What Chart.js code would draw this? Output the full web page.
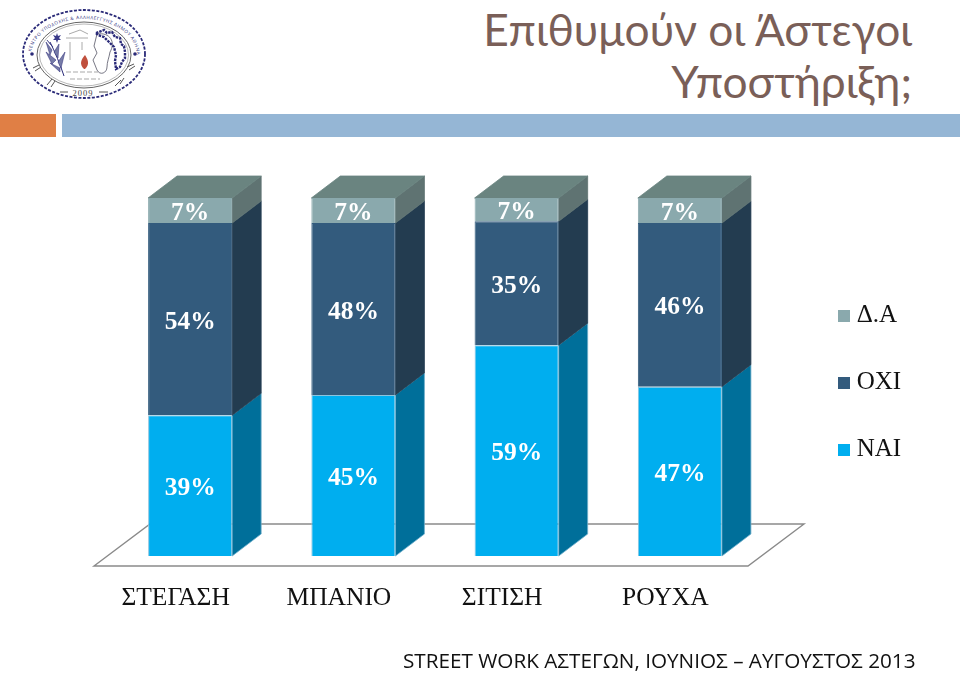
<!DOCTYPE html>
<html lang="el"><head><meta charset="utf-8">
<style>
html,body{margin:0;padding:0;background:#fff;width:960px;height:673px;overflow:hidden}
#c{position:absolute;left:0;top:0}
.t{position:absolute;white-space:nowrap}
#t1,#t2{right:48px;font:400 44.3px/52px Lato,sans-serif;color:#7A5F58;text-align:right}
#t1{top:3px}#t2{top:55px}
#foot{left:403px;top:647px;font:400 20.7px/26px "Open Sans",sans-serif;color:#111}
#o{position:absolute;left:0;top:114px;width:56px;height:23px;background:#E07F45}
#b{position:absolute;left:62px;top:114px;width:898px;height:23px;background:#95B6D5}
svg{position:absolute;left:0;top:0}
</style></head><body>
<svg width="170" height="110" viewBox="0 0 170 110">
<defs><path id="arc" d="M31 56 A53 37 0 1 1 137 56"/></defs>
<ellipse cx="84" cy="54" rx="61" ry="44" fill="none" stroke="#2A2A78" stroke-width="1.8" stroke-dasharray="3 1.5"/>
<ellipse cx="84" cy="55" rx="47" ry="33" fill="none" stroke="#666" stroke-width="1"/>
<ellipse cx="84" cy="55" rx="44.5" ry="31" fill="none" stroke="#888" stroke-width=".6"/>
<text font-family="Open Sans" font-size="4.6" fill="#2A2A78" letter-spacing=".55"><textPath href="#arc" startOffset="3%">ΚΕΝΤΡΟ ΥΠΟΔΟΧΗΣ &amp; ΑΛΛΗΛΕΓΓΥΗΣ ΔΗΜΟΥ ΑΘΗΝΑΙΩΝ</textPath></text>
<text x="83" y="96" font-family="Liberation Serif" font-size="8.5" fill="#444" text-anchor="middle" letter-spacing="1">2009</text>
<circle cx="32" cy="54" r="1.8" fill="#2A2A78"/><circle cx="135" cy="54" r="1.8" fill="#2A2A78"/>
<path d="M33 68 l6 -3 M35 71 l6 -4 M47 85 l5 -6 M51 87 l4 -6 M115 86 l6 -6 M120 84 l4 -6 M129 70 l6 -4 M127 67 l7 -3" stroke="#555" stroke-width="1"/>
<path d="M60 92 H68 M99 92 H108" stroke="#555" stroke-width="1"/>
<path d="M97 34 C110 32 116 42 110 52 C109 58 107 62 107 67 C107 73 100 76 97 70 L93 60 L97 53 L94 46 Z" fill="none" stroke="#556" stroke-width=".8"/>
<path d="M96 33 l8 -3 l3 3 l5 -1 l3 5 l5 1 l1 6 l3 2 l1 6 l0 6 l-3 4 l-2 5 l-4 2 l-1 -8 l1 -6 l-2 -8 l-5 -5 l-5 -5 l-6 -2Z" fill="none" stroke="#2A2A78" stroke-width="2.4" stroke-dasharray="2.5 1"/>
<path d="M64 76 C60 64 55 52 50 42" fill="none" stroke="#2A2A78" stroke-width="1"/>
<path d="M52 50 L46 42 L50 55ZM56 60 L46 52 L52 64ZM54 52 L59 44 L58 58ZM58 62 L65 52 L61 68ZM50 44 L47 40 L53 47ZM60 68 L50 63 L60 72Z" fill="#777CA8" stroke="#2A2A78" stroke-width=".5"/>
<path d="M57 33 l1 3 l3 -1 l-2 3 l2 2 l-3 0 l-1 3 l-1 -3 l-3 0 l2 -2 l-2 -3 l3 1Z" fill="#3A3A88"/>
<path d="M84 69 C79 64 81 60 85 55 C88 60 90 64 85 69Z" fill="#C0503E"/>
<path d="M66 72 H98 M70 79 H100" stroke="#aaa" stroke-width="1.2" stroke-dasharray="5 2"/>
<path d="M69 34 L80 30 L88 34 M66 38 H88 M70 42 V60 M82 42 V50" stroke="#aaa" stroke-width="1" fill="none"/>
</svg>
<div id="t1" class="t">Επιθυμούν οι Άστεγοι</div>
<div id="t2" class="t">Υποστήριξη;</div>
<div id="o"></div><div id="b"></div>
<canvas id="c" width="960" height="673"></canvas>
<div id="foot" class="t">STREET WORK ΑΣΤΕΓΩΝ, ΙΟΥΝΙΟΣ – ΑΥΓΟΥΣΤΟΣ 2013</div>
<script src="https://cdn.jsdelivr.net/npm/chart.js@4/dist/chart.umd.js"></script>
<script>
const categories = ["ΣΤΕΓΑΣΗ","ΜΠΑΝΙΟ","ΣΙΤΙΣΗ","ΡΟΥΧΑ"];
const nai = [39.3,45,58.9,47.3];
const oxi = [53.7,48,34.6,45.7];
const da  = [7,7,6.5,7];
const seriesNames = ["ΝΑΙ","ΟΧΙ","Δ.Α"];
const frontColors = ["#00AEEF","#335B7D","#8AA9AD"];
const sideColors  = ["#006F9A","#233C50","#5F7372"];
const topColor = "#6A8480";
const edgeColors = ["#8CC4DE","#335B7D","#8AA9AD"];
const DX=29, DY=22;

function square(col){const k=document.createElement('canvas');k.width=12;k.height=12;const g=k.getContext('2d');g.fillStyle=col;g.fillRect(0,0,12,12);return k;}

const depth = {
  id:'depth',
  afterLayout(chart){
    const l=chart.legend;
    l.left=801.75;l.right=960;l.top=261;l.bottom=673;
  },
  beforeDatasetsDraw(chart){
    const g=chart.ctx,a=chart.chartArea;
    // floor
    g.save();g.strokeStyle='#8A8A8A';g.lineWidth=1.4;g.beginPath();
    g.moveTo(a.left-14.5,566);g.lineTo(a.left+41.5,524);g.lineTo(a.right+42.5,524);g.lineTo(a.right-13.5,566);g.closePath();g.stroke();
    g.restore();
    chart.data.datasets.forEach((d,i)=>{
      chart.getDatasetMeta(i).data.forEach(b=>{
        const {x,y,base,width}=b.getProps(['x','y','base','width'],true);
        const L=x-width/2,R=x+width/2;
        g.fillStyle=sideColors[i];g.strokeStyle=i===0?'#6FAFCC':sideColors[i];g.lineWidth=.8;
        g.beginPath();g.moveTo(R,y);g.lineTo(R+DX,y-DY);g.lineTo(R+DX,base-DY);g.lineTo(R,base);g.closePath();g.fill();g.stroke();
        if(i===2){
          g.fillStyle=topColor;g.strokeStyle=topColor;
          g.beginPath();g.moveTo(L,y);g.lineTo(L+DX,y-DY);g.lineTo(R+DX,y-DY);g.lineTo(R,y);g.closePath();g.fill();g.stroke();
        }
      });
    });
  },
  afterDatasetsDraw(chart){
    const g=chart.ctx;
    g.save();g.fillStyle='#fff';g.font='700 25.5px "Liberation Serif"';g.textAlign='center';g.textBaseline='middle';
    chart.data.datasets.forEach((d,i)=>{
      chart.getDatasetMeta(i).data.forEach((b,j)=>{
        const p=b.getProps(['x','y','base'],true);
        g.fillText(Math.round(d.data[j])+'%',p.x,(p.y+p.base)/2+3);
      });
    });
    g.restore();
  }
};

new Chart(document.getElementById('c'),{
  type:'bar',
  data:{labels:categories,datasets:[nai,oxi,da].map((v,i)=>({label:seriesNames[i],data:v,backgroundColor:frontColors[i],borderColor:edgeColors[i],borderWidth:1}))},
  options:{
    responsive:false,animation:false,devicePixelRatio:1,
    layout:{padding:{left:108.5,right:198.5,top:198,bottom:57}},
    datasets:{bar:{categoryPercentage:1,barPercentage:.515}},
    scales:{
      x:{stacked:true,grid:{display:false},border:{display:false},
         afterFit(s){s.height=60},
         ticks:{labelOffset:-14.5,padding:18.5,maxRotation:0,autoSkip:false,color:'#111',font:{family:'"Liberation Serif"',size:25.5}}},
      y:{stacked:true,min:0,max:100,display:false}
    },
    plugins:{
      title:{display:false},tooltip:{enabled:false},
      legend:{position:'chartArea',align:'start',reverse:true,
        labels:{usePointStyle:true,boxWidth:0.5,boxHeight:12,padding:42,color:'#111',font:{family:'"Liberation Serif"',size:25},
          generateLabels(chart){return chart.data.datasets.map((d,i)=>({text:d.label,fontColor:'#111',pointStyle:square(frontColors[i]),datasetIndex:i,hidden:false,lineWidth:0}));}
        }}
    }
  },
  plugins:[depth]
});
</script>
</body></html>
